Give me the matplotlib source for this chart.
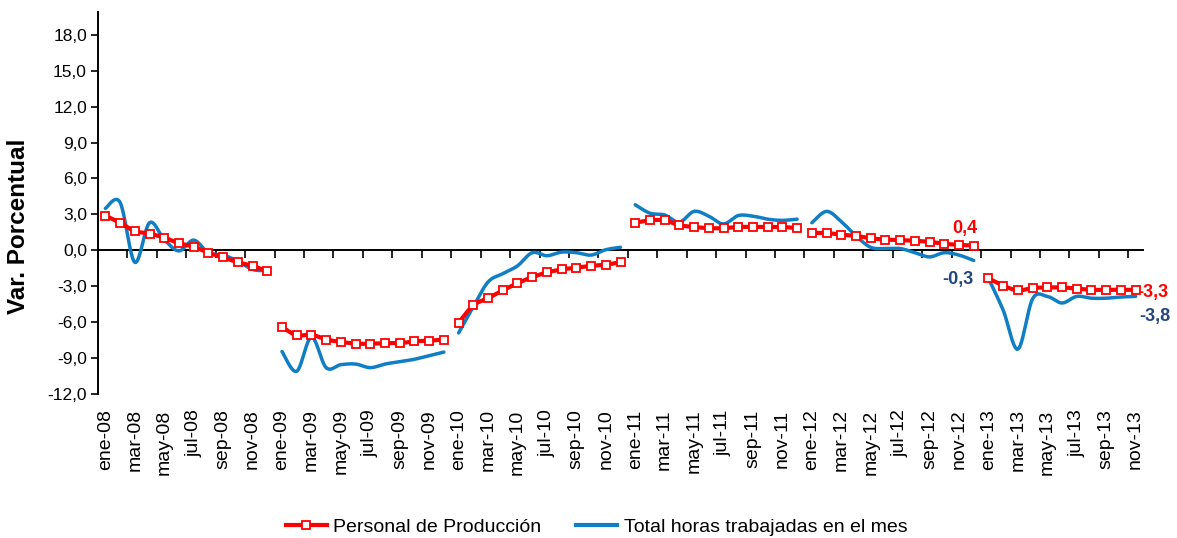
import matplotlib
matplotlib.use("Agg")
import matplotlib.pyplot as plt
import matplotlib.transforms as mtransforms
from matplotlib.lines import Line2D
from matplotlib import font_manager
import numpy as np

# font: condensed Arial look if available
names = {f.name for f in font_manager.fontManager.ttflist}
fam = "Liberation Sans Narrow" if "Liberation Sans Narrow" in names else "Liberation Sans"
plt.rcParams['font.family'] = [fam, 'DejaVu Sans']

# months ene-08 .. nov-13
meses = ["ene", "feb", "mar", "abr", "may", "jun", "jul", "ago", "sep", "oct", "nov", "dic"]
anios = ["08", "09", "10", "11", "12", "13"]
categorias = [f"{m}-{a}" for a in anios for m in meses][:71]

# Personal de Producción (var. %), one list per year
personal_08 = [2.9, 2.3, 1.6, 1.4, 1.05, 0.6, 0.3, -0.2, -0.6, -1.0, -1.3, -1.75]
personal_09 = [-6.4, -7.1, -7.05, -7.45, -7.65, -7.8, -7.8, -7.75, -7.75, -7.6, -7.55, -7.45]
personal_10 = [-6.05, -4.6, -4.0, -3.35, -2.75, -2.25, -1.85, -1.6, -1.45, -1.3, -1.2, -1.0]
personal_11 = [2.3, 2.5, 2.5, 2.1, 1.95, 1.85, 1.85, 1.95, 1.95, 1.95, 1.95, 1.85]
personal_12 = [1.45, 1.45, 1.3, 1.2, 1.0, 0.9, 0.85, 0.8, 0.7, 0.55, 0.45, 0.4]
personal_13 = [-2.35, -2.95, -3.35, -3.15, -3.1, -3.1, -3.2, -3.3, -3.3, -3.3, -3.3]

# Total horas trabajadas en el mes (var. %)
horas_08 = [3.5, 4.0, -1.0, 2.3, 0.9, -0.05, 0.85, -0.2, -0.4, -0.9, -1.6, -1.7]
horas_09 = [-8.45, -10.1, -7.25, -9.8, -9.55, -9.5, -9.8, -9.5, -9.3, -9.1, -8.8, -8.5]
horas_10 = [-6.9, -4.7, -2.65, -1.95, -1.3, -0.2, -0.45, -0.15, -0.2, -0.4, 0.05, 0.25]
horas_11 = [3.8, 3.1, 2.95, 2.35, 3.25, 2.85, 2.2, 2.9, 2.85, 2.6, 2.5, 2.6]
horas_12 = [2.3, 3.25, 2.4, 1.2, 0.25, 0.15, 0.15, -0.2, -0.55, -0.2, -0.4, -0.85]
horas_13 = [-2.35, -5.0, -8.25, -4.05, -3.85, -4.4, -3.85, -4.0, -4.0, -3.9, -3.85]

personal = [personal_08, personal_09, personal_10, personal_11, personal_12, personal_13]
horas = [horas_08, horas_09, horas_10, horas_11, horas_12, horas_13]

rojo = "#FF0000"
azul = "#0F7EC4"
azul_osc = "#23467C"


def suavizar(x, y, n=24):
    # Catmull-Rom, like Excel's smoothed line
    x = np.asarray(x, float)
    y = np.asarray(y, float)
    xs, ys = [], []
    for i in range(len(x) - 1):
        i0 = max(i - 1, 0)
        i3 = min(i + 2, len(x) - 1)
        t = np.linspace(0, 1, n)
        for arr, out in ((x, xs), (y, ys)):
            p0, p1, p2, p3 = arr[i0], arr[i], arr[i + 1], arr[i3]
            out.extend(0.5 * ((2 * p1) + (-p0 + p2) * t +
                              (2 * p0 - 5 * p1 + 4 * p2 - p3) * t ** 2 +
                              (-p0 + 3 * p1 - 3 * p2 + p3) * t ** 3))
    return np.array(xs), np.array(ys)


fig = plt.figure(figsize=(11.77, 5.38), dpi=100)
ax = fig.add_axes([98 / 1177, 1 - 394 / 538, (1143 - 98) / 1177, (394 - 12) / 538])

inicio = 0
for p_vals, h_vals in zip(personal, horas):
    xs = np.arange(inicio, inicio + len(p_vals))
    sx, sy = suavizar(xs, h_vals)
    ax.plot(sx, sy, color=azul, lw=2.5, solid_capstyle='round', zorder=3)
    sx, sy = suavizar(xs, p_vals)
    ax.plot(sx, sy, color=rojo, lw=3.0, zorder=4)
    ax.plot(xs, p_vals, ls='none', marker='s', ms=5.5, mfc='white', mec=rojo, mew=1.3, zorder=5)
    inicio += len(p_vals)

ax.set_xlim(-0.5, 70.5)
ax.set_ylim(-12, 19.9)
ax.set_yticks(np.arange(-12, 19, 3))
ax.set_yticklabels([f"{v:.1f}".replace(".", ",") for v in np.arange(-12, 19, 3)], fontsize=12.5)
ax.tick_params(axis='y', direction='out', length=5, width=1.2, pad=3)

for s in ['top', 'right']:
    ax.spines[s].set_visible(False)
ax.spines['left'].set_linewidth(1.4)
ax.spines['bottom'].set_position(('data', 0))
ax.spines['bottom'].set_linewidth(1.4)

# tick marks between categories, labels every two months below the plot
ax.set_xticks(np.arange(-0.5, 71, 2))
ax.set_xticklabels([])
ax.tick_params(axis='x', direction='out', length=6, width=1.2)
trans = mtransforms.blended_transform_factory(ax.transData, ax.transAxes)
off = mtransforms.offset_copy(trans, fig=fig, x=0, y=-11, units='points')
for i in range(0, 71, 2):
    ax.text(i, 0, categorias[i], rotation=90, ha='center', va='top', fontsize=14, transform=off)

fig.text(0.0155, 0.58, "Var. Porcentual", rotation=90, ha='center', va='center',
         fontsize=17.5, fontweight='bold')

# end-of-year labels
ax.text(58.4, 1.85, "0,4", color=rojo, fontsize=13, fontweight='bold', ha='center', va='center')
ax.text(57.95, -2.45, "-0,3", color=azul_osc, fontsize=13, fontweight='bold', ha='center', va='center')
ax.text(71.2, -3.5, "-3,3", color=rojo, fontsize=13, fontweight='bold', ha='center', va='center', clip_on=False)
ax.text(71.3, -5.55, "-3,8", color=azul_osc, fontsize=13, fontweight='bold', ha='center', va='center', clip_on=False)

handles = [Line2D([], [], color=rojo, lw=3.0, marker='s', ms=5.5, mfc='white', mec=rojo, mew=1.3),
           Line2D([], [], color=azul, lw=3.0)]
fig.legend(handles, ["Personal de Producción", "Total horas trabajadas en el mes"],
           loc='center', bbox_to_anchor=(0.507, 1 - 527 / 538), ncol=2, frameon=False,
           fontsize=14, handlelength=2.1, handletextpad=0.35, columnspacing=1.8)

fig.savefig("out.png", dpi=100)
